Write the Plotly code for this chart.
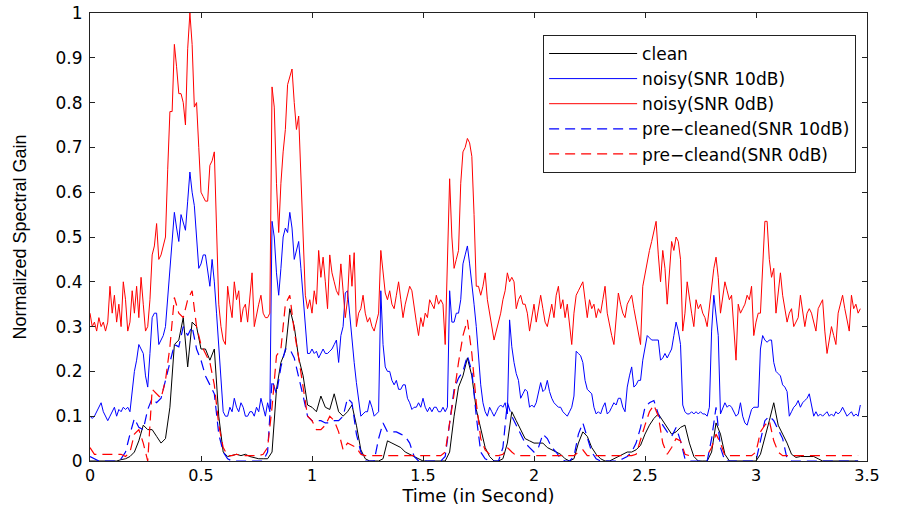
import numpy as np
import plotly.graph_objects as go

# ---------------- data ----------------
t_fine = np.round(np.arange(348) * 0.01, 2)     # time axis, 10 ms frames
t_coarse = np.round(np.arange(174) * 0.02, 2)   # time axis, 20 ms frames

noisy_0db = [
    0.33, 0.30, 0.31, 0.29, 0.32, 0.30, 0.31, 0.29, 0.31, 0.39,
    0.33, 0.37, 0.31, 0.35, 0.30, 0.40, 0.36, 0.29, 0.31, 0.38,
    0.33, 0.39, 0.32, 0.41, 0.35, 0.29, 0.30, 0.36, 0.46, 0.48,
    0.53, 0.45, 0.46, 0.48, 0.50, 0.65, 0.78, 0.78, 0.93, 0.88,
    0.82, 0.82, 0.80, 0.75, 0.92, 1.00, 0.93, 0.79, 0.80, 0.70,
    0.60, 0.59, 0.58, 0.58, 0.66, 0.67, 0.69, 0.52, 0.35, 0.30,
    0.27, 0.26, 0.39, 0.35, 0.32, 0.40, 0.36, 0.38, 0.31, 0.34,
    0.35, 0.31, 0.36, 0.42, 0.30, 0.33, 0.35, 0.37, 0.33, 0.32,
    0.32, 0.33, 0.835, 0.79, 0.62, 0.51, 0.62, 0.69, 0.74, 0.84,
    0.86, 0.875, 0.80, 0.74, 0.77, 0.63, 0.48, 0.37, 0.34, 0.36,
    0.33, 0.38, 0.35, 0.47, 0.41, 0.455, 0.40, 0.34, 0.46, 0.42,
    0.40, 0.38, 0.37, 0.44, 0.38, 0.32, 0.36, 0.46, 0.39, 0.465,
    0.30, 0.33, 0.34, 0.37, 0.33, 0.31, 0.32, 0.30, 0.29, 0.31,
    0.33, 0.47, 0.42, 0.375, 0.36, 0.38, 0.35, 0.34, 0.37, 0.40,
    0.36, 0.32, 0.35, 0.37, 0.39, 0.38, 0.34, 0.31, 0.28, 0.32,
    0.30, 0.33, 0.32, 0.36, 0.35, 0.34, 0.37, 0.35, 0.36, 0.35,
    0.26, 0.45, 0.63, 0.50, 0.43, 0.45, 0.47, 0.62, 0.69, 0.70,
    0.72, 0.71, 0.68, 0.55, 0.39, 0.39, 0.37, 0.39, 0.42, 0.36,
    0.33, 0.31, 0.27, 0.29, 0.31, 0.33, 0.36, 0.38, 0.42, 0.40,
    0.41, 0.40, 0.34, 0.36, 0.37, 0.35, 0.35, 0.33, 0.29, 0.32,
    0.35, 0.31, 0.34, 0.37, 0.34, 0.31, 0.30, 0.33, 0.35, 0.32,
    0.37, 0.39, 0.34, 0.36, 0.32, 0.35, 0.30, 0.26, 0.33, 0.37,
    0.38, 0.39, 0.40, 0.36, 0.32, 0.36, 0.34, 0.35, 0.32, 0.34,
    0.33, 0.36, 0.39, 0.33, 0.30, 0.28, 0.26, 0.31, 0.375, 0.35,
    0.33, 0.32, 0.35, 0.36, 0.37, 0.34, 0.31, 0.28, 0.26, 0.39,
    0.42, 0.44, 0.47, 0.49, 0.51, 0.535, 0.46, 0.40, 0.47, 0.43,
    0.35, 0.42, 0.49, 0.47, 0.50, 0.49, 0.45, 0.29, 0.33, 0.40,
    0.36, 0.33, 0.30, 0.36, 0.34, 0.35, 0.33, 0.32, 0.30, 0.34,
    0.38, 0.43, 0.455, 0.41, 0.33, 0.36, 0.40, 0.38, 0.36, 0.37,
    0.30, 0.225, 0.35, 0.33, 0.34, 0.35, 0.37, 0.36, 0.39, 0.28,
    0.31, 0.33, 0.33, 0.45, 0.535, 0.535, 0.45, 0.41, 0.43, 0.33,
    0.38, 0.42, 0.37, 0.34, 0.31, 0.33, 0.34, 0.30, 0.31, 0.32,
    0.37, 0.33, 0.30, 0.33, 0.34, 0.33, 0.31, 0.29, 0.34, 0.35,
    0.36, 0.29, 0.24, 0.27, 0.30, 0.28, 0.26, 0.33, 0.35, 0.37,
    0.34, 0.31, 0.29, 0.37, 0.34, 0.35, 0.33, 0.34,
]

noisy_10db = [
    0.10, 0.095, 0.10, 0.11, 0.12, 0.13, 0.11, 0.10, 0.09, 0.10,
    0.11, 0.12, 0.10, 0.115, 0.11, 0.12, 0.115, 0.12, 0.11, 0.16,
    0.20, 0.225, 0.26, 0.25, 0.24, 0.19, 0.165, 0.24, 0.32, 0.33,
    0.33, 0.26, 0.27, 0.28, 0.30, 0.36, 0.44, 0.50, 0.555, 0.52,
    0.49, 0.55, 0.53, 0.515, 0.58, 0.645, 0.60, 0.57, 0.50, 0.43,
    0.44, 0.46, 0.46, 0.42, 0.39, 0.45, 0.40, 0.33, 0.26, 0.17,
    0.11, 0.10, 0.10, 0.12, 0.11, 0.14, 0.12, 0.11, 0.13, 0.12,
    0.10, 0.10, 0.11, 0.11, 0.10, 0.12, 0.11, 0.14, 0.12, 0.10,
    0.13, 0.11, 0.535, 0.50, 0.42, 0.37, 0.43, 0.50, 0.52, 0.51,
    0.555, 0.52, 0.45, 0.47, 0.49, 0.43, 0.36, 0.30, 0.24, 0.24,
    0.25, 0.24, 0.245, 0.23, 0.24, 0.25, 0.24, 0.24, 0.245, 0.25,
    0.26, 0.27, 0.22, 0.28, 0.30, 0.375, 0.38, 0.32, 0.28, 0.22,
    0.175, 0.13, 0.10, 0.105, 0.11, 0.11, 0.135, 0.12, 0.10, 0.105,
    0.11, 0.38, 0.26, 0.21, 0.20, 0.20, 0.18, 0.17, 0.18, 0.16,
    0.16, 0.17, 0.17, 0.14, 0.13, 0.115, 0.12, 0.12, 0.13, 0.12,
    0.14, 0.12, 0.11, 0.12, 0.11, 0.12, 0.12, 0.11, 0.11, 0.12,
    0.11, 0.12, 0.38, 0.31, 0.31, 0.33, 0.33, 0.36, 0.44, 0.46,
    0.48, 0.44, 0.40, 0.35, 0.30, 0.225, 0.17, 0.13, 0.11, 0.10,
    0.12, 0.11, 0.10, 0.11, 0.12, 0.125, 0.12, 0.13, 0.105, 0.315,
    0.255, 0.22, 0.195, 0.18, 0.14, 0.15, 0.16, 0.155, 0.12, 0.125,
    0.12, 0.13, 0.15, 0.175, 0.155, 0.16, 0.18, 0.155, 0.14, 0.13,
    0.125, 0.12, 0.12, 0.11, 0.105, 0.10, 0.11, 0.12, 0.145, 0.245,
    0.24, 0.235, 0.22, 0.18, 0.16, 0.155, 0.15, 0.12, 0.105, 0.11,
    0.105, 0.12, 0.13, 0.105, 0.11, 0.12, 0.13, 0.125, 0.14, 0.14,
    0.12, 0.11, 0.165, 0.19, 0.21, 0.165, 0.17, 0.18, 0.18, 0.225,
    0.25, 0.28, 0.275, 0.27, 0.27, 0.27, 0.27, 0.225, 0.23, 0.24,
    0.23, 0.24, 0.25, 0.28, 0.31, 0.29, 0.26, 0.125, 0.11, 0.105,
    0.105, 0.11, 0.105, 0.11, 0.105, 0.11, 0.105, 0.105, 0.10, 0.12,
    0.29, 0.37, 0.33, 0.28, 0.105, 0.12, 0.13, 0.12, 0.125, 0.12,
    0.11, 0.10, 0.105, 0.13, 0.10, 0.085, 0.08, 0.10, 0.115, 0.12,
    0.12, 0.12, 0.25, 0.28, 0.27, 0.265, 0.27, 0.27, 0.22, 0.20,
    0.195, 0.19, 0.17, 0.165, 0.155, 0.10, 0.11, 0.12, 0.125, 0.135,
    0.12, 0.13, 0.135, 0.14, 0.15, 0.12, 0.10, 0.11, 0.10, 0.105,
    0.10, 0.105, 0.11, 0.10, 0.105, 0.10, 0.11, 0.105, 0.11, 0.12,
    0.11, 0.10, 0.105, 0.11, 0.10, 0.105, 0.10, 0.125,
]

clean = [
    0.0, 0.0, 0.0, 0.0, 0.0, 0.0, 0.0, 0.003, 0.005, 0.01,
    0.02, 0.045, 0.08, 0.07, 0.07, 0.055, 0.04, 0.05, 0.12, 0.26,
    0.27, 0.32, 0.21, 0.31, 0.30, 0.25, 0.25, 0.225, 0.25, 0.10,
    0.02, 0.01, 0.012, 0.015, 0.012, 0.015, 0.01, 0.008, 0.005, 0.005,
    0.005, 0.02, 0.16, 0.22, 0.245, 0.34, 0.30, 0.23, 0.19, 0.125,
    0.12, 0.11, 0.145, 0.12, 0.115, 0.15, 0.11, 0.10, 0.11, 0.125,
    0.08, 0.025, 0.005, 0.0, 0.0, 0.0, 0.005, 0.045, 0.04, 0.035,
    0.03, 0.02, 0.015, 0.01, 0.005, 0.0, 0.0, 0.0, 0.0, 0.0,
    0.0, 0.02, 0.10, 0.165, 0.19, 0.23, 0.19, 0.115, 0.07, 0.03,
    0.01, 0.0, 0.0, 0.005, 0.04, 0.11, 0.09, 0.07, 0.05, 0.045,
    0.04, 0.04, 0.04, 0.03, 0.025, 0.02, 0.015, 0.005, 0.0, 0.005,
    0.04, 0.065, 0.055, 0.03, 0.015, 0.005, 0.0, 0.0, 0.005, 0.01,
    0.015, 0.02, 0.02, 0.025, 0.035, 0.06, 0.08, 0.095, 0.105, 0.09,
    0.075, 0.06, 0.065, 0.075, 0.08, 0.04, 0.01, 0.0, 0.0, 0.0,
    0.02, 0.085, 0.06, 0.015, 0.0, 0.0, 0.0, 0.0, 0.0, 0.0,
    0.0, 0.015, 0.05, 0.09, 0.13, 0.08, 0.06, 0.04, 0.015, 0.008,
    0.01, 0.01, 0.01, 0.01, 0.005, 0.0, 0.0, 0.0, 0.0, 0.0,
    0.0, 0.0, 0.0, 0.0,
]

precleaned_10db = [
    0.01, 0.005, 0.0, 0.0, 0.0, 0.0, 0.0, 0.005, 0.02, 0.06,
    0.095, 0.075, 0.07, 0.115, 0.14, 0.13, 0.14, 0.18, 0.22, 0.26,
    0.255, 0.30, 0.28, 0.30, 0.25, 0.225, 0.19, 0.17, 0.15, 0.06,
    0.02, 0.005, 0.0, 0.0, 0.0, 0.0, 0.0, 0.0, 0.0, 0.0,
    0.02, 0.18, 0.15, 0.21, 0.25, 0.25, 0.23, 0.19, 0.145, 0.10,
    0.09, 0.09, 0.09, 0.085, 0.085, 0.09, 0.09, 0.10, 0.14, 0.13,
    0.06, 0.02, 0.0, 0.0, 0.0, 0.05, 0.085, 0.065, 0.065, 0.065,
    0.06, 0.055, 0.04, 0.01, 0.0, 0.0, 0.0, 0.0, 0.0, 0.0,
    0.01, 0.08, 0.16, 0.185, 0.20, 0.235, 0.20, 0.10, 0.02, 0.005,
    0.0, 0.0, 0.0, 0.03, 0.13, 0.10, 0.08, 0.06, 0.04, 0.03,
    0.02, 0.03, 0.06, 0.05, 0.03, 0.02, 0.005, 0.0, 0.0, 0.01,
    0.06, 0.085, 0.05, 0.02, 0.005, 0.0, 0.0, 0.0, 0.0, 0.0,
    0.005, 0.01, 0.02, 0.04, 0.075, 0.12, 0.13, 0.135, 0.105, 0.08,
    0.065, 0.055, 0.075, 0.045, 0.005, 0.0, 0.0, 0.0, 0.0, 0.0,
    0.05, 0.12, 0.03, 0.0, 0.0, 0.0, 0.0, 0.0, 0.0, 0.0,
    0.0, 0.045, 0.09, 0.10, 0.09, 0.07, 0.05, 0.005, 0.0, 0.0,
    0.0, 0.0, 0.0, 0.0, 0.0, 0.0, 0.0, 0.0, 0.0, 0.0,
    0.0, 0.0, 0.0, 0.0,
]

precleaned_0db = [
    0.03, 0.015, 0.015, 0.015, 0.015, 0.015, 0.015, 0.015, 0.01, 0.02,
    0.06, 0.07, 0.04, 0.0, 0.16, 0.15, 0.14, 0.18, 0.255, 0.365,
    0.33, 0.32, 0.36, 0.38, 0.30, 0.26, 0.24, 0.22, 0.17, 0.08,
    0.03, 0.012, 0.012, 0.015, 0.012, 0.012, 0.012, 0.012, 0.012, 0.015,
    0.03, 0.12, 0.235, 0.25, 0.35, 0.37, 0.29, 0.23, 0.17, 0.10,
    0.09, 0.07, 0.07, 0.08, 0.10, 0.09, 0.065, 0.025, 0.04, 0.035,
    0.03, 0.015, 0.012, 0.012, 0.012, 0.012, 0.012, 0.012, 0.012, 0.012,
    0.012, 0.012, 0.012, 0.012, 0.012, 0.012, 0.012, 0.012, 0.012, 0.012,
    0.02, 0.08, 0.15, 0.22, 0.28, 0.315, 0.24, 0.13, 0.05, 0.025,
    0.015, 0.012, 0.012, 0.015, 0.03, 0.02, 0.012, 0.012, 0.012, 0.012,
    0.012, 0.012, 0.012, 0.012, 0.012, 0.012, 0.012, 0.012, 0.012, 0.012,
    0.02, 0.025, 0.012, 0.012, 0.012, 0.012, 0.012, 0.012, 0.012, 0.012,
    0.012, 0.012, 0.012, 0.015, 0.05, 0.08, 0.11, 0.125, 0.10, 0.04,
    0.015, 0.03, 0.05, 0.045, 0.015, 0.012, 0.012, 0.012, 0.012, 0.012,
    0.03, 0.06, 0.04, 0.012, 0.012, 0.012, 0.012, 0.012, 0.012, 0.012,
    0.02, 0.065, 0.08, 0.09, 0.045, 0.02, 0.012, 0.012, 0.012, 0.012,
    0.012, 0.012, 0.012, 0.012, 0.012, 0.012, 0.012, 0.012, 0.012, 0.012,
    0.012, 0.012, 0.012, 0.012,
]

series_names = ["clean", "noisy(SNR 10dB)", "noisy(SNR 0dB)",
                "pre\u2212cleaned(SNR 10dB)", "pre\u2212cleand(SNR 0dB)"]
x_ticks = [0, 0.5, 1, 1.5, 2, 2.5, 3, 3.5]
x_tick_labels = ["0", "0.5", "1", "1.5", "2", "2.5", "3", "3.5"]
y_ticks = [0, 0.1, 0.2, 0.3, 0.4, 0.5, 0.6, 0.7, 0.8, 0.9, 1]
y_tick_labels = ["0", "0.1", "0.2", "0.3", "0.4", "0.5", "0.6", "0.7", "0.8", "0.9", "1"]

assert len(noisy_0db) == len(t_fine) and len(noisy_10db) == len(t_fine)
assert len(clean) == len(t_coarse) == len(precleaned_10db) == len(precleaned_0db)

WIDE = "DejaVu Sans, Verdana, sans-serif"
NARROW = "Liberation Sans, Arial, Helvetica, sans-serif"

fig = go.Figure()
fig.add_trace(go.Scatter(x=t_coarse, y=clean, mode="lines", name=series_names[0],
                         line=dict(color="#000000", width=1)))
fig.add_trace(go.Scatter(x=t_fine, y=noisy_10db, mode="lines", name=series_names[1],
                         line=dict(color="#0000ff", width=1)))
fig.add_trace(go.Scatter(x=t_fine, y=noisy_0db, mode="lines", name=series_names[2],
                         line=dict(color="#ff0000", width=1)))
fig.add_trace(go.Scatter(x=t_coarse, y=precleaned_10db, mode="lines", name=series_names[3],
                         line=dict(color="#0000ff", width=1.2, dash="10px,6px")))
fig.add_trace(go.Scatter(x=t_coarse, y=precleaned_0db, mode="lines", name=series_names[4],
                         line=dict(color="#ff0000", width=1.2, dash="10px,6px")))

axis_common = dict(showgrid=False, zeroline=False, showline=True, linecolor="#222222",
                   linewidth=1, mirror="ticks", ticks="inside", ticklen=5,
                   tickcolor="#222222", automargin=False)

fig.update_layout(
    width=902, height=506,
    margin=dict(l=90, r=35, t=13, b=45),
    paper_bgcolor="white", plot_bgcolor="white",
    font=dict(family=WIDE, color="#000000"),
    xaxis=dict(range=[0, 3.5], tickvals=x_ticks, ticktext=x_tick_labels,
               tickfont=dict(family=WIDE, size=16, color="#000000"),
               title=dict(text="Time (in Second)", font=dict(family=WIDE, size=18), standoff=3),
               **axis_common),
    yaxis=dict(range=[0, 1], tickvals=y_ticks, ticktext=y_tick_labels, ticklabelstandoff=3,
               tickfont=dict(family=WIDE, size=17, color="#000000"),
               title=dict(text="Normalized Spectral Gain", font=dict(family=NARROW, size=18), standoff=24),
               **axis_common),
    legend=dict(x=0.986, y=0.951, xanchor="right", yanchor="top",
                bgcolor="white", bordercolor="#222222", borderwidth=1,
                font=dict(family=WIDE, size=17), itemwidth=88,
                tracegroupgap=0),
    showlegend=True,
)

fig.write_html("out.html")
